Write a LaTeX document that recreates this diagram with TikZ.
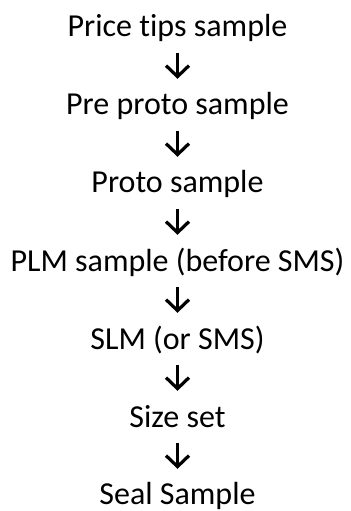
\documentclass[tikz,border=0pt]{standalone}
\usepackage{fontspec}
\setmainfont{Carlito}[Ligatures=NoCommon]
\usetikzlibrary{arrows.meta}
\begin{document}
\begin{tikzpicture}[x=1bp,y=1bp,
  stage/.style={anchor=base,inner sep=0pt,text height=20bp,text depth=6bp,font=\fontsize{32bp}{38bp}\selectfont},
  flow/.style={line width=3.2bp,-{Straight Barb[length=11bp,width=23bp,line width=3.2bp]},shorten <=10bp,shorten >=16bp}]
\useasboundingbox[fill=white] (0,0) rectangle (350,-511);
\node[stage] (a) at (177.5,-37) {Price tips sample};
\node[stage] (b) at (177.5,-115) {Pre proto sample};
\node[stage] (c) at (177.5,-193) {Proto sample};
\node[stage] (d) at (177.5,-271) {PLM sample (before SMS)};
\node[stage] (e) at (177.5,-349) {SLM (or SMS)};
\node[stage] (f) at (177.5,-427) {Size set};
\node[stage] (g) at (177.5,-504) {Seal Sample};
\foreach \p/\q in {a/b,b/c,c/d,d/e,e/f}
  \draw[flow] (\p) -- (\q);
\draw[flow,shorten >=15bp] (f) -- (g);
\end{tikzpicture}
\end{document}
